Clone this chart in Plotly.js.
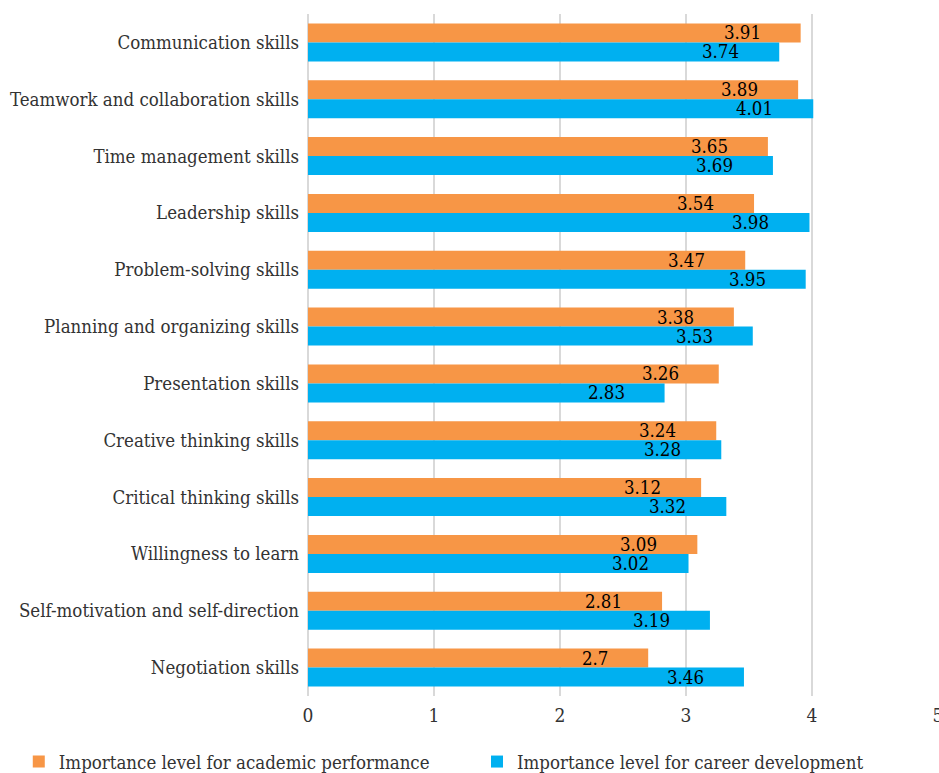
<!DOCTYPE html>
<html><head><meta charset="utf-8">
<script src="https://cdn.plot.ly/plotly-3.0.1.min.js"></script>
<style>body{margin:0;padding:0;background:#fff}#chart{width:939px;height:773px}</style>
</head><body><div id="chart"></div>
<script>
const categories = ["Communication skills","Teamwork and collaboration skills","Time management skills","Leadership skills","Problem-solving skills","Planning and organizing skills","Presentation skills","Creative thinking skills","Critical thinking skills","Willingness to learn","Self-motivation and self-direction","Negotiation skills"];
const academic = [3.91,3.89,3.65,3.54,3.47,3.38,3.26,3.24,3.12,3.09,2.81,2.7];
const career = [3.74,4.01,3.69,3.98,3.95,3.53,2.83,3.28,3.32,3.02,3.19,3.46];
const seriesNames = ["Importance level for academic performance","Importance level for career development"];
const xTicks = [0,1,2,3,4,5];

const FONT = "DejaVu Serif Condensed, DejaVu Serif, serif";
const colors = ["#F79646","#00B0F0"];
const legendIds = ['legend','legend2'];

const traces = [academic, career].map((vals,i)=>({
  type:'bar', orientation:'h', name:seriesNames[i], y:categories, x:vals,
  marker:{color:colors[i]}, hoverinfo:'none', legend:legendIds[i]
}));

const annotations = [];
[academic, career].forEach((vals,i)=>{
  vals.forEach((v,j)=>{
    annotations.push({x:v, y:categories[j], xref:'x', yref:'y', text:String(v), showarrow:false,
      xanchor:'right', yanchor:'middle', xshift:-38, yshift:(i===0?9.5:-9.5),
      font:{family:FONT,size:18.5,color:'#000'}});
  });
});

const legendBase = {orientation:'h', xref:'container', yref:'container', y:0.0142, xanchor:'left', yanchor:'middle',
  bgcolor:'rgba(0,0,0,0)', font:{family:FONT,size:18.5,color:'#333'}};

const layout = {
  width:939, height:773,
  margin:{l:308, r:1, t:14, b:77},
  barmode:'group', bargap:0.33, bargroupgap:0,
  font:{family:FONT, size:18.5, color:'#333'},
  showlegend:true,
  legend:Object.assign({}, legendBase, {x:0.02}),
  legend2:Object.assign({}, legendBase, {x:0.508}),
  xaxis:{range:[0,5], tickvals:xTicks, showgrid:true, gridcolor:'#D9D9D9', gridwidth:2,
    zeroline:true, zerolinecolor:'#D9D9D9', zerolinewidth:2,
    showline:false, ticks:'', ticklabelstandoff:6, ticklabeloverflow:'allow',
    tickfont:{family:FONT,size:19,color:'#333'}, fixedrange:true},
  yaxis:{autorange:'reversed', type:'category', showgrid:false, ticks:'', ticklabelstandoff:8,
    tickfont:{family:FONT,size:18.5,color:'#333'}},
  annotations:annotations,
  plot_bgcolor:'#fff', paper_bgcolor:'#fff'
};
Plotly.newPlot('chart', traces, layout, {displayModeBar:false, staticPlot:true});
</script></body></html>
